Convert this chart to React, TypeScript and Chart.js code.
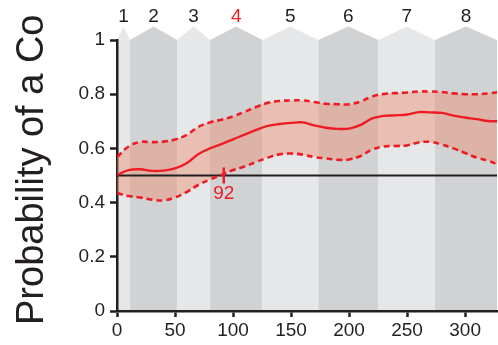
import React, { useEffect, useRef } from 'react';
import { Chart, registerables } from 'chart.js';

Chart.register(...registerables);

// Trial number (x) and smoothed probability estimates with confidence bounds
const trialX = [0, 10, 20, 30, 40, 50, 60, 70, 80, 90, 100, 110, 120, 130, 140, 150, 160, 170, 180, 190, 200, 210, 220, 230, 240, 250, 260, 270, 280, 290, 300, 310, 320, 327.5];
const meanP = [0.502, 0.52, 0.523, 0.517, 0.518, 0.526, 0.545, 0.578, 0.6, 0.616, 0.633, 0.651, 0.668, 0.683, 0.69, 0.694, 0.696, 0.685, 0.676, 0.672, 0.673, 0.687, 0.711, 0.72, 0.722, 0.725, 0.734, 0.733, 0.731, 0.721, 0.714, 0.708, 0.701, 0.7];
const upperP = [0.568, 0.607, 0.624, 0.623, 0.625, 0.633, 0.65, 0.679, 0.696, 0.706, 0.718, 0.735, 0.753, 0.768, 0.775, 0.777, 0.777, 0.771, 0.765, 0.763, 0.763, 0.773, 0.792, 0.801, 0.804, 0.806, 0.81, 0.81, 0.808, 0.803, 0.8, 0.8, 0.803, 0.807];
const lowerP = [0.435, 0.424, 0.419, 0.411, 0.408, 0.419, 0.439, 0.465, 0.485, 0.502, 0.52, 0.533, 0.55, 0.566, 0.578, 0.581, 0.577, 0.568, 0.563, 0.558, 0.559, 0.572, 0.596, 0.607, 0.609, 0.611, 0.622, 0.624, 0.614, 0.6, 0.583, 0.566, 0.554, 0.542];

const chanceLevel = 0.5;
const learningTrial = 92;

// Session blocks along the trial axis
const blockEdges = [0, 11.2, 51.9, 80.2, 125.3, 173.5, 225.3, 274.1, 327.5];
const blockLabels = ['1', '2', '3', '4', '5', '6', '7', '8'];
const highlightedBlock = '4';
const blockRoofTop = 1.05;

const xTicks = [0, 50, 100, 150, 200, 250, 300];
const yTicks = [0, 0.2, 0.4, 0.6, 0.8, 1];
const yTitle = 'Probability of a Co';

const RED = '#ed1c24';
const INK = '#231f20';
const FONT = '"Liberation Sans", Arial, Helvetica, sans-serif';
const BAND_LIGHT = '#e6e7e8';
const BAND_DARK = '#d1d2d4';

const blocksPlugin = {
  id: 'blocks',
  beforeDraw(chart: any) {
    const { ctx, chartArea, scales } = chart;
    const xs = scales.x;
    const ys = scales.y;
    const yTop = ys.getPixelForValue(1);
    const yRoof = ys.getPixelForValue(blockRoofTop);
    ctx.save();
    for (let i = 0; i < blockLabels.length; i++) {
      const x0 = xs.getPixelForValue(blockEdges[i]);
      const x1 = xs.getPixelForValue(blockEdges[i + 1]);
      const xc = (x0 + x1) / 2;
      ctx.fillStyle = i % 2 === 0 ? BAND_LIGHT : BAND_DARK;
      ctx.beginPath();
      ctx.moveTo(x0, chartArea.bottom);
      ctx.lineTo(x0, yTop);
      ctx.lineTo(xc, yRoof);
      ctx.lineTo(x1, yTop);
      ctx.lineTo(x1, chartArea.bottom);
      ctx.closePath();
      ctx.fill();

      ctx.fillStyle = blockLabels[i] === highlightedBlock ? RED : INK;
      ctx.font = `19px ${FONT}`;
      ctx.textAlign = 'center';
      ctx.textBaseline = 'middle';
      ctx.fillText(blockLabels[i], xc, yTop - 23);
    }
    ctx.restore();
  },
  afterDatasetsDraw(chart: any) {
    const { ctx, scales } = chart;
    const x = scales.x.getPixelForValue(learningTrial);
    const y = scales.y.getPixelForValue(chanceLevel);
    ctx.save();
    ctx.strokeStyle = RED;
    ctx.lineWidth = 2.5;
    ctx.beginPath();
    ctx.moveTo(x, y - 8);
    ctx.lineTo(x, y + 8);
    ctx.stroke();
    ctx.fillStyle = RED;
    ctx.font = `19px ${FONT}`;
    ctx.textAlign = 'center';
    ctx.textBaseline = 'middle';
    ctx.fillText(String(learningTrial), x, y + 18);
    ctx.restore();
  },
  afterDraw(chart: any) {
    const { ctx } = chart;
    ctx.save();
    ctx.translate(43, 325);
    ctx.rotate(-Math.PI / 2);
    ctx.fillStyle = INK;
    ctx.font = `38px ${FONT}`;
    ctx.textAlign = 'left';
    ctx.textBaseline = 'alphabetic';
    ctx.fillText(yTitle, 0, 0);
    ctx.restore();
  },
};

export default function App() {
  const canvasRef = useRef<HTMLCanvasElement | null>(null);

  useEffect(() => {
    if (!canvasRef.current) return;
    const pts = (ys: number[]) => trialX.map((x, i) => ({ x, y: ys[i] }));
    const chart = new Chart(canvasRef.current, {
      type: 'line',
      data: {
        datasets: [
          {
            label: 'mean',
            data: pts(meanP),
            borderColor: RED,
            borderWidth: 2.4,
            pointRadius: 0,
            tension: 0.4,
            fill: false,
          },
          {
            label: 'upper',
            data: pts(upperP),
            borderColor: RED,
            borderWidth: 2.6,
            borderDash: [6, 4],
            pointRadius: 0,
            tension: 0.4,
            fill: '+1',
            backgroundColor: 'rgba(240, 135, 105, 0.42)',
          },
          {
            label: 'lower',
            data: pts(lowerP),
            borderColor: RED,
            borderWidth: 2.6,
            borderDash: [6, 4],
            pointRadius: 0,
            tension: 0.4,
            fill: false,
          },
          {
            label: 'chance',
            data: [
              { x: 0, y: chanceLevel },
              { x: blockEdges[blockEdges.length - 1], y: chanceLevel },
            ],
            borderColor: INK,
            borderWidth: 2,
            pointRadius: 0,
            fill: false,
          },
        ],
      },
      options: {
        responsive: false,
        animation: false,
        events: [],
        layout: { padding: { top: 40, right: 1, left: 0, bottom: 0 } },
        plugins: {
          legend: { display: false },
          tooltip: { enabled: false },
          filler: { drawTime: 'beforeDatasetsDraw' },
        },
        scales: {
          x: {
            type: 'linear',
            min: 0,
            max: blockEdges[blockEdges.length - 1],
            afterBuildTicks: (s: any) => {
              s.ticks = xTicks.map((v) => ({ value: v }));
            },
            afterFit: (s: any) => {
              s.height = 34;
            },
            grid: { drawOnChartArea: false, drawTicks: true, tickLength: 6, tickWidth: 2.5, tickColor: INK },
            border: { display: true, color: INK, width: 2.5 },
            ticks: { color: INK, font: { size: 19, family: FONT }, padding: 2, maxRotation: 0, autoSkip: false },
          },
          y: {
            type: 'linear',
            min: 0,
            max: 1,
            afterBuildTicks: (s: any) => {
              s.ticks = yTicks.map((v) => ({ value: v }));
            },
            afterFit: (s: any) => {
              s.width = 117;
            },
            grid: { drawOnChartArea: false, drawTicks: true, tickLength: 7, tickWidth: 2.5, tickColor: INK },
            border: { display: true, color: INK, width: 2.5 },
            ticks: {
              color: INK,
              font: { size: 19, family: FONT },
              padding: 5,
              autoSkip: false,
              callback: (v: any) => String(v),
            },
          },
        },
      },
      plugins: [blocksPlugin],
    } as any);
    return () => chart.destroy();
  }, []);

  return (
    <div style={{ position: 'fixed', left: 0, top: 0, width: 498, height: 345, background: '#fff' }}>
      <canvas ref={canvasRef} width={498} height={345} />
    </div>
  );
}
